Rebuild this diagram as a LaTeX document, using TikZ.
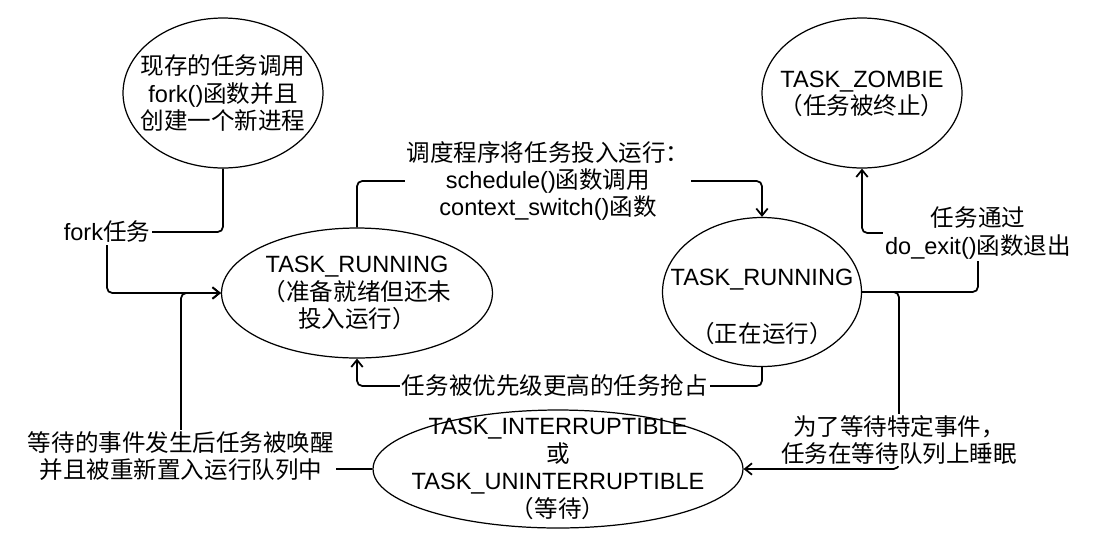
\documentclass[tikz,border=0pt]{standalone}
\usepackage{fontspec}
\setmainfont{Liberation Sans}
\newfontfamily\cjk{Noto Sans CJK SC}
\newcommand\zh[1]{{\cjk #1}}
\usetikzlibrary{shapes.geometric,arrows.meta,backgrounds}
\begin{document}
\begin{tikzpicture}[x=0.02cm,y=-0.02cm,
    state/.style={draw, ellipse, line width=0.7pt, inner sep=0pt},
    txt/.style={align=center, inner sep=0pt, font=\fontsize{13.4pt}{15.6pt}\selectfont},
    lbl/.style={txt, fill=white, inner sep=1pt},
    link/.style={line width=1pt, rounded corners=3pt},
    >={Straight Barb[length=4pt,width=6.5pt]}]
  \useasboundingbox (0,0) rectangle (1093,549);

  \node[state, minimum width=4cm, minimum height=3cm] (fork) at (223,93) {};
  \node[state, minimum width=5.42cm, minimum height=2.6cm] (ready) at (357,293) {};
  \node[state, minimum width=4cm, minimum height=3cm] (zombie) at (862,93) {};
  \node[state, minimum width=3.98cm, minimum height=2.98cm] (run) at (762,292) {};
  \node[state, minimum width=7.4cm, minimum height=2.36cm] (wait) at (558,469) {};

  \node[txt] (forkt) at (fork) {\zh{现存的任务调用}\\fork()\zh{函数并且}\\\zh{创建一个新进程}};
  \node[txt] (readyt) at (ready) {TASK\_RUNNING\\\zh{（准备就绪但还未}\\\zh{投入运行）}};
  \node[txt] (zombiet) at (862,94) {TASK\_ZOMBIE\\\zh{（任务被终止）}};
  \node[txt] (runt) at (762,307) {TASK\_RUNNING\\\strut\\\zh{（正在运行）}};
  \node[txt] (waitt) at (wait) {TASK\_INTERRUPTIBLE\\\zh{或}\\TASK\_UNINTERRUPTIBLE\\\zh{（等待）}};

  \node[lbl] (forkl) at (107,232) {fork\zh{任务}};
  \node[lbl] (schedl) at (548,181) {\zh{调度程序将任务投入运行：}\\schedule()\zh{函数调用}\\context\_switch()\zh{函数}};
  \node[lbl] (exitl) at (978,233) {\zh{任务通过}\\do\_exit()\zh{函数退出}};
  \node[lbl] (prel) at (555,386) {\zh{任务被优先级更高的任务抢占}};
  \node[lbl] (sleepl) at (899,440) {\zh{为了等待特定事件，}\\\zh{任务在等待队列上睡眠}};
  \node[lbl] (wakel) at (181,456) {\zh{等待的事件发生后任务被唤醒}\\\zh{并且被重新置入运行队列中}};

  \begin{scope}[on background layer]
    \draw[link,->] (fork.south) |- (forkl.center) |- (ready.west);
    \draw[link,->] (wait.west) -| (wakel.center) |- (ready.west);
    \draw[link,->] (ready.north) |- (schedl.center) -| (run.north);
    \draw[link,->] (run.south) |- (prel.center) -| (ready.south);
    \draw[link,->] (run.east) -| (exitl.center) -| (zombie.south);
    \draw[link,->] (run.east) -| (sleepl.center) |- (wait.east);
  \end{scope}
\end{tikzpicture}
\end{document}
